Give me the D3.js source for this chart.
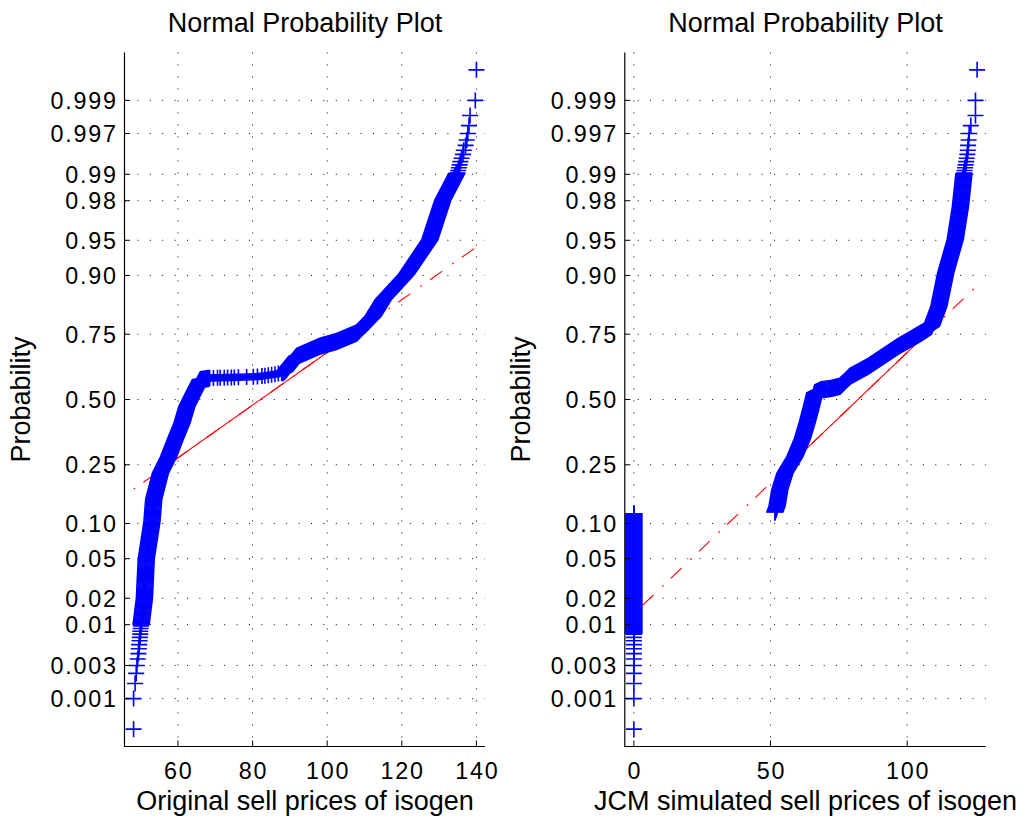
<!DOCTYPE html>
<html>
<head>
<meta charset="utf-8">
<script src="https://cdn.jsdelivr.net/npm/d3@7"></script>
<style>
  body { margin: 0; background: #fff; }
  svg text { font-family: "Liberation Sans", Arial, Helvetica, sans-serif; fill: #000; }
</style>
</head>
<body>
<div id="chart"></div>
<script>
const width = 1027, height = 821;

// probability axis
const probTicks = [0.001, 0.003, 0.01, 0.02, 0.05, 0.10, 0.25, 0.50, 0.75, 0.90, 0.95, 0.98, 0.99, 0.997, 0.999];
const probTickLabels = ["0.001", "0.003", "0.01", "0.02", "0.05", "0.10", "0.25", "0.50", "0.75", "0.90", "0.95", "0.98", "0.99", "0.997", "0.999"];

// plotting positions of the lowest / highest order statistics (discrete markers)
const lowTailProb = [0.00033, 0.001, 0.00167, 0.00233, 0.003, 0.00367, 0.00433, 0.005, 0.00567, 0.00633, 0.007, 0.00767, 0.00833, 0.009, 0.00967];
const highTailProb = [0.99033, 0.991, 0.99167, 0.99233, 0.993, 0.99367, 0.99433, 0.995, 0.99567, 0.99633, 0.997, 0.99767, 0.99833, 0.999, 0.99967];

// left panel: original sell prices
const leftLowVal = [48.1, 48.1, 48.5, 48.8, 49.0, 49.2, 49.4, 49.5, 49.6, 49.7, 49.8, 49.9, 49.9, 50.0, 50.1];
const leftHighVal = [134.9, 135.1, 135.3, 135.5, 135.7, 136.0, 136.4, 136.6, 137.1, 137.4, 137.7, 138.0, 138.3, 139.7, 140.0];
const leftBandProb = [0.0099, 0.020, 0.050, 0.102, 0.1515, 0.2236, 0.2776, 0.3409, 0.4052, 0.4721, 0.5271, 0.5812, 0.5871];
const leftBandVal = [50.1, 51.0, 51.5, 53.0, 53.5, 55.3, 57.5, 59.3, 61.1, 62.4, 64.2, 66.0, 68.5];
const leftPlateauProb = [0.5878, 0.5882, 0.5886, 0.5889, 0.5893, 0.5897, 0.590, 0.5904, 0.5908, 0.5918, 0.593, 0.594, 0.5955, 0.597, 0.599, 0.601, 0.603, 0.6055, 0.608];
const leftPlateauVal = [68.5, 69.5, 70.6, 71.3, 72.4, 73.3, 74.3, 75.1, 76.2, 78.4, 80.2, 81.3, 82.5, 83.3, 84.2, 85.1, 86.0, 86.9, 87.8];
const leftUpperProb = [0.608, 0.6141, 0.6722, 0.7088, 0.7257, 0.7540, 0.8051, 0.8485, 0.9015, 0.9505, 0.9803, 0.9904];
const leftUpperVal = [87.8, 88.6, 91.8, 98.0, 102.5, 107.9, 112.3, 115.0, 121.2, 127.5, 131.0, 134.8];
const leftQuartiles = [57.35, 106.9];
const leftXTicks = [60, 80, 100, 120, 140];

// right panel: JCM simulated sell prices
const rightLowVal = [0, 0, 0, 0, 0, 0, 0, 0, 0, 0, 0, 0, 0, 0, 0];
const rightHighVal = [120.9, 121.0, 121.2, 121.4, 121.6, 121.8, 122.0, 122.2, 122.3, 122.5, 122.7, 123.3, 125.0, 125.0, 125.6];
const rightZeroProb = [0.00767, 0.1207];
const rightZeroVal = [0, 0];
const rightBandProb = [0.121, 0.1357, 0.176, 0.2236, 0.2776, 0.3409, 0.4052, 0.4721, 0.5271, 0.54, 0.545, 0.5541, 0.5945, 0.6338, 0.6722, 0.7085, 0.7318, 0.7546, 0.7751, 0.832, 0.9043, 0.951, 0.977, 0.9904];
const rightBandVal = [51.5, 52.4, 53.4, 55.3, 58.9, 61.6, 63.4, 65.0, 66.2, 68.5, 72.0, 75.4, 79.0, 85.7, 91.2, 96.7, 101.0, 105.3, 108.9, 111.6, 114.1, 117.6, 119.5, 120.8];
const rightQuartiles = [57.0, 107.0];
const rightXTicks = [0, 50, 100];

// inverse normal cdf (Acklam)
function probit(p) {
    const a = [-39.69683028665376, 220.9460984245205, -275.9285104469687, 138.3577518672690, -30.66479806614716, 2.506628277459239];
    const b = [-54.47609879822406, 161.5858368580409, -155.6989798598866, 66.80131188771972, -13.28068155288572];
    const c = [-0.007784894002430293, -0.3223964580411365, -2.400758277161838, -2.549732539343734, 4.374664141464968, 2.938163982698783];
    const d = [0.007784695709041462, 0.3224671290700398, 2.445134137142996, 3.754408661907416];
    const pl = 0.02425;
    if (p < pl) {
        const q = Math.sqrt(-2 * Math.log(p));
        return (((((c[0]*q+c[1])*q+c[2])*q+c[3])*q+c[4])*q+c[5]) / ((((d[0]*q+d[1])*q+d[2])*q+d[3])*q+1);
    }
    if (p > 1 - pl) {
        const q = Math.sqrt(-2 * Math.log(1 - p));
        return -(((((c[0]*q+c[1])*q+c[2])*q+c[3])*q+c[4])*q+c[5]) / ((((d[0]*q+d[1])*q+d[2])*q+d[3])*q+1);
    }
    const q = p - 0.5, r = q * q;
    return (((((a[0]*r+a[1])*r+a[2])*r+a[3])*r+a[4])*r+a[5])*q / (((((b[0]*r+b[1])*r+b[2])*r+b[3])*r+b[4])*r+1);
}

const plotTop = 52.5, plotBottom = 746.5;
const zScale = d3.scaleLinear().domain([-3.585, 3.585]).range([plotBottom, plotTop]);
const y = p => zScale(probit(p));

const svg = d3.select("#chart")
    .append("svg")
    .attr("width", width)
    .attr("height", height);

// band = overlapping '+' markers; spread = how far the vertical arms reach out
const panels = [
    {
        xDomain: [45.8, 142.3], xRange: [125, 485], xTicks: leftXTicks,
        xLabel: "Original sell prices of isogen",
        lowVal: leftLowVal, highVal: leftHighVal,
        bands: [
            { prob: leftBandProb, val: leftBandVal, spread: 8 },
            { prob: leftPlateauProb, val: leftPlateauVal, spread: 3 },
            { prob: leftUpperProb, val: leftUpperVal, spread: 8 }
        ],
        singles: [[leftPlateauProb, leftPlateauVal]],
        quartiles: leftQuartiles
    },
    {
        xDomain: [-3.14, 128.74], xRange: [625.3, 985.7], xTicks: rightXTicks,
        xLabel: "JCM simulated sell prices of isogen",
        lowVal: rightLowVal, highVal: rightHighVal,
        bands: [
            { prob: rightZeroProb, val: rightZeroVal, spread: 8 },
            { prob: rightBandProb, val: rightBandVal, spread: 8 }
        ],
        singles: [],
        quartiles: rightQuartiles
    }
];

const blue = "#0000ff";
const plus = "M-8,0H8M0,-8V8";
const tickFont = "23.3px", tickSpacing = 1.8;

panels.forEach(pn => {
    const x = d3.scaleLinear().domain(pn.xDomain).range(pn.xRange);
    const x0 = pn.xRange[0], x1 = pn.xRange[1];
    const g = svg.append("g");

    // dotted grid
    g.selectAll(".hgrid").data(probTicks).enter().append("line")
        .attr("x1", x0).attr("x2", x1)
        .attr("y1", d => y(d)).attr("y2", d => y(d))
        .attr("stroke", "#000").attr("stroke-width", 1)
        .attr("stroke-dasharray", "1,11.4");
    g.selectAll(".vgrid").data(pn.xTicks).enter().append("line")
        .attr("x1", d => x(d)).attr("x2", d => x(d))
        .attr("y1", plotTop).attr("y2", plotBottom)
        .attr("stroke", "#000").attr("stroke-width", 1)
        .attr("stroke-dasharray", "1,11");

    // reference line through the quartiles
    const zq = [probit(0.25), probit(0.75)];
    const slope = (zq[1] - zq[0]) / (pn.quartiles[1] - pn.quartiles[0]);
    const zAt = v => zq[0] + slope * (v - pn.quartiles[0]);
    const allVals = pn.lowVal.concat(pn.highVal);
    const vmin = d3.min(allVals), vmax = d3.max(allVals);
    g.append("line")
        .attr("x1", x(vmin)).attr("y1", zScale(zAt(vmin)))
        .attr("x2", x(vmax)).attr("y2", zScale(zAt(vmax)))
        .attr("stroke", "#ff0000").attr("stroke-width", 1.1)
        .attr("stroke-dasharray", "2,10,15,12");
    g.append("line")
        .attr("x1", x(pn.quartiles[0])).attr("y1", zScale(zq[0]))
        .attr("x2", x(pn.quartiles[1])).attr("y2", zScale(zq[1]))
        .attr("stroke", "#ff0000").attr("stroke-width", 1.1);

    // dense part of the sample
    pn.bands.forEach(b => {
        const line = d3.line().x((d, i) => x(b.val[i])).y(d => y(d));
        const dPath = line(b.prob);
        for (let o = -8; o <= 8; o += 1) {
            g.append("path").attr("d", dPath).attr("transform", `translate(${o},0)`)
                .attr("fill", "none").attr("stroke", blue).attr("stroke-width", 1.6);
        }
        for (let o = -b.spread; o <= b.spread; o += 1) {
            g.append("path").attr("d", dPath).attr("transform", `translate(0,${o})`)
                .attr("fill", "none").attr("stroke", blue).attr("stroke-width", 1.6);
        }
    });

    // individual '+' markers: tails and sparse stretches
    const pts = lowTailProb.map((p, i) => [p, pn.lowVal[i]])
        .concat(highTailProb.map((p, i) => [p, pn.highVal[i]]));
    pn.singles.forEach(([probs, vals]) => probs.forEach((p, i) => pts.push([p, vals[i]])));
    g.selectAll(".mk").data(pts).enter().append("path")
        .attr("d", plus)
        .attr("transform", d => `translate(${x(d[1])},${y(d[0])})`)
        .attr("stroke", blue).attr("stroke-width", 1.6).attr("fill", "none");

    // axes (box off, ticks inward)
    g.append("line").attr("x1", x0 - 0.5).attr("x2", x0 - 0.5).attr("y1", plotTop).attr("y2", plotBottom + 0.5)
        .attr("stroke", "#000").attr("stroke-width", 1.2);
    g.append("line").attr("x1", x0 - 0.5).attr("x2", x1).attr("y1", plotBottom).attr("y2", plotBottom)
        .attr("stroke", "#000").attr("stroke-width", 1.2);

    g.selectAll(".ytick").data(probTicks).enter().append("line")
        .attr("x1", x0).attr("x2", x0 + 5)
        .attr("y1", d => y(d)).attr("y2", d => y(d))
        .attr("stroke", "#000").attr("stroke-width", 1);
    g.selectAll(".ylab").data(probTicks).enter().append("text")
        .attr("x", x0 - 9 + tickSpacing).attr("y", d => y(d)).attr("dy", "0.36em")
        .attr("text-anchor", "end").attr("font-size", tickFont)
        .attr("letter-spacing", tickSpacing)
        .text((d, i) => probTickLabels[i]);

    g.selectAll(".xtick").data(pn.xTicks).enter().append("line")
        .attr("x1", d => x(d)).attr("x2", d => x(d))
        .attr("y1", plotBottom).attr("y2", plotBottom - 6)
        .attr("stroke", "#000").attr("stroke-width", 1);
    g.selectAll(".xlab").data(pn.xTicks).enter().append("text")
        .attr("x", d => x(d) + tickSpacing / 2).attr("y", 779)
        .attr("text-anchor", "middle").attr("font-size", tickFont)
        .attr("letter-spacing", tickSpacing)
        .text(d => d);

    const cx = (x0 + x1) / 2;
    g.append("text").attr("x", cx).attr("y", 810)
        .attr("text-anchor", "middle").attr("font-size", "27px")
        .text(pn.xLabel);
    g.append("text").attr("x", cx).attr("y", 31.5)
        .attr("text-anchor", "middle").attr("font-size", "27px")
        .text("Normal Probability Plot");
    g.append("text")
        .attr("transform", `translate(${x0 - 95.5},${(plotTop + plotBottom) / 2}) rotate(-90)`)
        .attr("text-anchor", "middle").attr("font-size", "27px")
        .text("Probability");
});
</script>
</body>
</html>
